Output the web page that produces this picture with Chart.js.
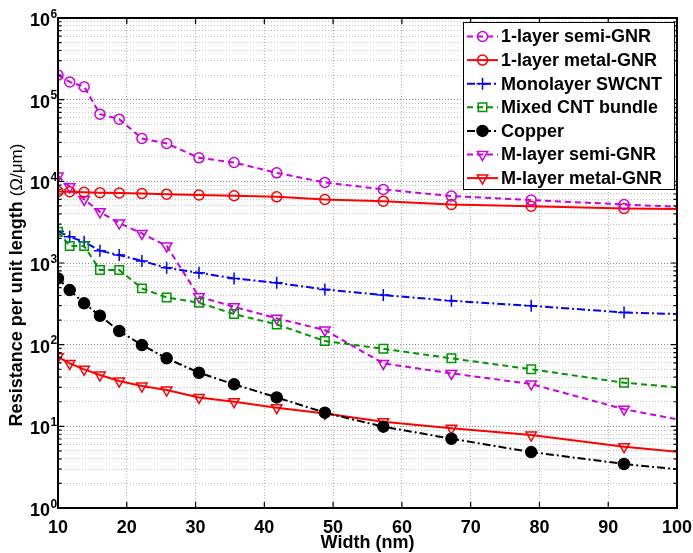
<!DOCTYPE html>
<html>
<head>
<meta charset="utf-8">
<script src="https://cdn.jsdelivr.net/npm/chart.js@4.4.0/dist/chart.umd.min.js"></script>
<style>
  html, body { margin: 0; padding: 0; background: #fff; }
  #wrap { width: 693px; height: 553px; position: relative; }
</style>
</head>
<body>
<div id="wrap"><canvas id="chart"></canvas></div>
<script>
// widths (nm); the last point only carries the line to the right edge
const widths = [10, 11.7, 13.8, 16.1, 18.9, 22.2, 25.8, 30.5, 35.6, 41.8, 48.8, 57.3, 67.2, 78.8, 92.3, 100]

const semiGNR1 = [2.0e5, 1.65e5, 1.44e5, 6.65e4, 5.77e4, 3.35e4, 2.91e4, 1.94e4, 1.70e4, 1.27e4, 9.7e3, 7.96e3, 6.59e3, 5.89e3, 5.21e3, 4.87e3]
const metalGNR1 = [7.5e3, 7.45e3, 7.35e3, 7.25e3, 7.2e3, 7.1e3, 6.97e3, 6.8e3, 6.65e3, 6.46e3, 6.0e3, 5.72e3, 5.21e3, 4.97e3, 4.66e3, 4.57e3]
const swcnt = [2.45e3, 2.09e3, 1.82e3, 1.41e3, 1.25e3, 1.06e3, 874, 759, 648, 572, 475, 405, 345, 299, 248, 237]
const mixedCNT = [2.41e3, 1.62e3, 1.62e3, 819, 819, 489, 379, 326, 237, 177, 111, 89, 68, 50, 34.2, 30]
const copper = [648, 466, 321, 226, 147, 98.9, 68, 45.3, 32.7, 22.6, 14.7, 9.9, 7.05, 4.84, 3.46, 2.98]
const semiGNRM = [1.16e4, 8.57e3, 6.0e3, 4.23e3, 3.08e3, 2.30e3, 1.62e3, 386, 291, 210, 151, 59, 44.5, 33, 16.2, 12.2]
const metalGNRM = [71.1, 59, 49.9, 42.5, 35.9, 31.1, 27.8, 22.6, 20, 16.9, 14.4, 11.4, 9.46, 7.83, 5.63, 4.89]

const xTicks = [10, 20, 30, 40, 50, 60, 70, 80, 90, 100]
const yDecades = [1, 10, 100, 1e3, 1e4, 1e5, 1e6]

const MAGENTA = 'rgb(204,0,224)'
const RED = 'rgb(255,0,0)'
const BLUE = 'rgb(0,0,255)'
const GREEN = 'rgb(0,150,0)'
const DASH = [6, 4]
const DASHDOT = [8, 3, 2, 3]

const FONT = '"Liberation Sans", Arial, sans-serif'

const series = (label, values, color, dash, style, radius, extra = {}) => ({
  label,
  data: widths.map((w, i) => ({ x: w, y: values[i] })),
  borderColor: color,
  borderWidth: 2,
  borderDash: dash,
  pointStyle: style,
  pointRadius: widths.map(w => (w < 100 ? radius : 0)),
  pointBorderColor: color,
  pointBackgroundColor: 'rgba(0,0,0,0)',
  pointBorderWidth: 1.5,
  tension: 0,
  ...extra
})

const datasets = [
  series('1-layer semi-GNR', semiGNR1, MAGENTA, DASH, 'circle', 5),
  series('1-layer metal-GNR', metalGNR1, RED, [], 'circle', 5),
  series('Monolayer SWCNT', swcnt, BLUE, DASHDOT, 'cross', 6, { order: 1 }),
  series('Mixed CNT bundle', mixedCNT, GREEN, DASH, 'rect', 6),
  series('Copper', copper, '#000', DASHDOT, 'circle', 5.5, { pointBackgroundColor: '#000' }),
  series('M-layer semi-GNR', semiGNRM, MAGENTA, DASH, 'triangle', 6, { pointRotation: 180 }),
  series('M-layer metal-GNR', metalGNRM, RED, [], 'triangle', 6, { pointRotation: 180 })
]

const isDecade = v => Math.abs(Math.log10(v) - Math.round(Math.log10(v))) < 1e-9

// axis box, inward ticks, labels, titles and the legend
const decorations = {
  id: 'decorations',
  afterDraw(chart) {
    const { ctx, chartArea: a, scales: { x, y } } = chart
    ctx.save()

    // inward tick marks
    ctx.strokeStyle = '#000'
    ctx.lineWidth = 1.2
    ctx.setLineDash([])
    ctx.beginPath()
    xTicks.forEach(v => {
      const px = x.getPixelForValue(v)
      ctx.moveTo(px, a.bottom); ctx.lineTo(px, a.bottom - 6)
      ctx.moveTo(px, a.top); ctx.lineTo(px, a.top + 6)
    })
    y.ticks.forEach(t => {
      const py = y.getPixelForValue(t.value)
      const len = isDecade(t.value) ? 6 : 3.5
      ctx.moveTo(a.left, py); ctx.lineTo(a.left + len, py)
      ctx.moveTo(a.right, py); ctx.lineTo(a.right - len, py)
    })
    ctx.stroke()

    // axis box
    ctx.lineWidth = 2
    ctx.strokeRect(a.left, a.top, a.right - a.left, a.bottom - a.top)

    // x tick labels
    ctx.fillStyle = '#000'
    ctx.font = 'bold 18px ' + FONT
    ctx.textAlign = 'center'
    ctx.textBaseline = 'alphabetic'
    xTicks.forEach(v => ctx.fillText(String(v), x.getPixelForValue(v), a.bottom + 25))

    // y tick labels 10^n
    yDecades.forEach(v => {
      const py = y.getPixelForValue(v)
      ctx.font = 'bold 18px ' + FONT
      ctx.textAlign = 'right'
      ctx.fillText('10', a.left - 8, py + 8)
      ctx.font = 'bold 12px ' + FONT
      ctx.textAlign = 'left'
      ctx.fillText(String(Math.round(Math.log10(v))), a.left - 7.5, py - 0.5)
    })

    // x title
    ctx.font = 'bold 18px ' + FONT
    ctx.textAlign = 'center'
    ctx.fillText('Width (nm)', (a.left + a.right) / 2, a.bottom + 40)

    // y title, rotated
    ctx.save()
    ctx.translate(17, 285)
    ctx.rotate(-Math.PI / 2)
    ctx.textBaseline = 'middle'
    const partA = 'Resistance per unit length '
    const partB = '(\u03A9/\u03BCm)'
    ctx.font = 'bold 18px ' + FONT
    const wA = ctx.measureText(partA).width
    ctx.font = '17px ' + FONT
    const wB = ctx.measureText(partB).width
    const start = -(wA + wB) / 2
    ctx.textAlign = 'left'
    ctx.font = 'bold 18px ' + FONT
    ctx.fillText(partA, start, 0)
    ctx.font = '17px ' + FONT
    ctx.fillText(partB, start + wA, 0)
    ctx.restore()

    // legend
    const lx = 463, ly = 22, lw = 211, lh = 167
    ctx.fillStyle = '#fff'
    ctx.fillRect(lx, ly, lw, lh)
    ctx.lineWidth = 1
    ctx.strokeStyle = '#000'
    ctx.strokeRect(lx + 0.5, ly + 0.5, lw, lh)
    chart.data.datasets.forEach((ds, i) => {
      const ry = ly + 14.5 + i * 23.6
      ctx.strokeStyle = ds.borderColor
      ctx.lineWidth = 2
      ctx.setLineDash(ds.borderDash)
      ctx.beginPath()
      ctx.moveTo(lx + 4, ry); ctx.lineTo(lx + 35, ry)
      ctx.stroke()
      ctx.setLineDash([])
      ctx.lineWidth = ds.pointBorderWidth
      ctx.fillStyle = ds.pointBackgroundColor
      Chart.helpers.drawPoint(ctx, {
        pointStyle: ds.pointStyle,
        radius: ds.pointRadius[0],
        rotation: ds.pointRotation || 0,
        borderWidth: ds.pointBorderWidth
      }, lx + 19.5, ry)
      ctx.fillStyle = '#000'
      ctx.font = 'bold 18px ' + FONT
      ctx.textAlign = 'left'
      ctx.textBaseline = 'middle'
      ctx.fillText(ds.label, lx + 38, ry + 1)
    })

    ctx.restore()
  }
}

new Chart(document.getElementById('chart'), {
  type: 'line',
  data: { datasets },
  options: {
    responsive: true,
    maintainAspectRatio: false,
    devicePixelRatio: 1,
    animation: false,
    layout: { padding: { left: 58, top: 18, right: 16, bottom: 45 } },
    plugins: { legend: { display: false }, tooltip: { enabled: false } },
    scales: {
      x: {
        type: 'linear',
        min: 10,
        max: 100,
        ticks: { display: false, stepSize: 10 },
        grid: { drawTicks: false, color: '#b0b0b0', lineWidth: 1 },
        border: { display: false, dash: [1, 2] }
      },
      y: {
        type: 'logarithmic',
        min: 1,
        max: 1e6,
        afterBuildTicks: scale => {
          const ticks = []
          for (let d = 0; d < 6; d++) {
            for (let m = 1; m <= 9; m++) ticks.push({ value: m * Math.pow(10, d) })
          }
          ticks.push({ value: 1e6 })
          scale.ticks = ticks
        },
        ticks: { display: false, autoSkip: false },
        grid: {
          drawTicks: false,
          lineWidth: 1,
          color: c => (c.tick && isDecade(c.tick.value) ? '#8a8a8a' : '#c4c4c4')
        },
        border: { display: false, dash: [1, 2] }
      }
    }
  },
  plugins: [decorations]
})
</script>
</body>
</html>
